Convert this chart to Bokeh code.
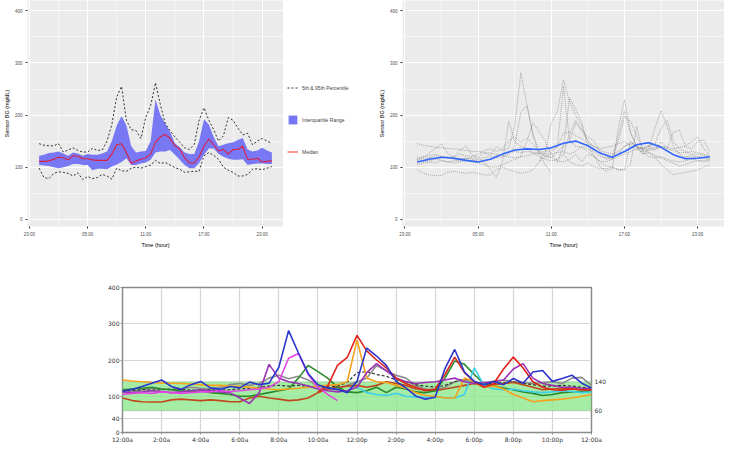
import math
from bokeh.plotting import figure
from bokeh.models import (FixedTicker, Legend, LegendItem, LinearAxis, BoxAnnotation,
                          Range1d, Spacer)
from bokeh.layouts import column, row
from bokeh.embed import file_html
from bokeh.resources import INLINE

nan = float("nan")

# ---------------- data ----------------
half_hours = [0, 0.5, 1, 1.5, 2, 2.5, 3, 3.5, 4, 4.5, 5, 5.5, 6, 6.5, 7, 7.5, 8, 8.5, 9, 9.5,
              10, 10.5, 11, 11.5, 12, 12.5, 13, 13.5, 14, 14.5, 15, 15.5, 16, 16.5, 17, 17.5,
              18, 18.5, 19, 19.5, 20, 20.5, 21, 21.5, 22, 22.5, 23, 23.5, 24]

# percentile summary (top-left panel)
median = [111, 111, 112, 115, 119, 118, 114, 122, 121, 116, 116, 114, 113, 113, 113, 125, 143, 145, 128, 107,
          112, 115, 118, 125, 148, 158, 163, 155, 141, 135, 118, 108, 108, 120, 140, 154, 143, 131, 134, 125,
          134, 134, 140, 115, 115, 117, 110, 111, 112]
q75 = [122, 124, 127, 128, 130, 126, 122, 128, 126, 122, 125, 124, 124, 126, 130, 150, 180, 198, 180, 140,
       128, 130, 131, 150, 230, 200, 184, 168, 146, 138, 128, 125, 125, 150, 192, 182, 158, 140, 143, 146,
       148, 152, 156, 134, 130, 132, 137, 132, 128]
q25 = [104, 103, 102, 100, 98, 100, 102, 106, 106, 104, 104, 94, 97, 97, 96, 101, 105, 110, 117, 104,
       104, 107, 109, 114, 128, 130, 130, 133, 124, 114, 104, 98, 98, 108, 124, 136, 136, 125, 120, 116,
       114, 114, 115, 104, 106, 107, 107, 106, 106]
p95 = [145, 142, 141, 141, 145, 129, 133, 137, 132, 129, 129, 136, 132, 133, 150, 182, 235, 255, 190, 172,
       170, 155, 196, 218, 262, 220, 184, 170, 158, 148, 137, 134, 144, 190, 214, 190, 172, 150, 160, 195,
       190, 175, 162, 165, 143, 150, 155, 150, 146]
p5 = [98, 80, 78, 88, 91, 90, 88, 83, 89, 76, 82, 78, 80, 86, 83, 77, 98, 93, 92, 98,
      100, 98, 101, 104, 113, 107, 109, 104, 99, 96, 90, 91, 92, 92, 122, 128, 123, 115, 100, 94,
      90, 83, 83, 86, 96, 97, 95, 98, 101]

# smoothed trend (top-right panel)
smooth_hours = [0, 1, 2, 3, 4, 5, 6, 7, 8, 9, 10, 11, 12, 13, 14, 15, 16, 17, 18, 19, 20, 21, 22, 23, 24]
smooth = [110, 115, 119, 117, 113, 110, 115, 125, 133, 135, 134, 137, 146, 150, 141, 127, 119, 130, 143, 147,
          138, 124, 116, 117, 120]

# daily traces (bottom panel; grey in top-right panel)
blue = [114, 119, 127, 136, 145, 127, 119, 132, 141, 123, 119, 127, 123, 139, 132, 136, 180, 281, 220, 163,
        132, 123, 119, 110, 141, 233, 211, 185, 141, 123, 101, 92, 97, 176, 229, 167, 141, 132, 141, 132,
        149, 136, 167, 171, 141, 149, 158, 136, 123]
red = [nan] * 20 + [112, 128, 185, 207, 268, 225, 200, 178, 150, 135, 125, 115, 120, 160, 208, 165, 140, 125,
                    135, 175, 208, 178, 140, 125, 118, 117, 120, 118, 118]
orange = [145, 142, 140, 138, 137, 136, 135, 134, 132, 130, 130, 128, 127, 125, 122, 120, 118, 120, 122, 125,
          128, 130, 132, 140, 255, 150, 140, 138, 130, 122, 110, 102, 100, 95, 95, 150, 140, 125, 128, 120,
          105, 95, 85, 88, 90, 92, 95, 100, 105]
magenta = [105, 108, 110, 108, 112, 110, 108, 110, 112, 112, 115, 113, 115, 118, 120, 125, 140, 205, 218, 160,
           125, 105, 88] + [nan] * 26
purple = [112, 110, 112, 115, 113, 110, 112, 115, 118, 115, 112, 110, 95, 80, 110, 188, 150, 140, 135, 128,
          120, 115, 112, 115, 125, 165, 190, 170, 150, 140, 135, 138, 140, 145, 150, 140, 135, 138, 140, 145,
          175, 190, 150, 135, 130, 125, 125, 122, 120]
green = [118, 120, 122, 125, 120, 118, 115, 112, 115, 110, 108, 105, 100, 100, 105, 110, 115, 120, 150, 185,
         168, 150, 125, 112, 110, 115, 125, 110, 125, 120, 112, 110, 115, 150, 197, 188, 160, 135, 128, 123,
         118, 112, 108, 102, 105, 110, 112, 113, 114]
grey = [110, 112, 118, 122, 120, 118, 120, 125, 122, 120, 125, 132, 135, 130, 135, 150, 158, 148, 155, 145,
        128, 120, 118, 130, 140, 150, 185, 170, 158, 150, 130, 120, 118, 125, 140, 145, 138, 135, 142, 145,
        140, 138, 135, 138, 140, 135, 150, 152, 130]
cyan = [nan] * 24 + [125, 110, 105, 102, 108, 100, 98, 97, 100, 95, 95, 105, 178, 130, 120, 118, 120, 115,
                     112, 110, 112, 115, 113, 110, 112]
brown = [95, 88, 85, 84, 84, 90, 92, 90, 88, 90, 88, 85, 85, 95, 100, 95, 92, 88, 90, 95,
         110, 120, 125, 128, 130, 125, 130, 140, 135, 130, 120, 118, 115, 120, 125, 130, 135, 130, 132, 135,
         138, 132, 125, 118, 120, 122, 120, 118, 115]
black = [115, 116, 118, 117, 118, 120, 118, 117, 116, 118, 117, 118, 120, 122, 125, 128, 130, 128, 130, 128,
         126, 125, 128, 138, 165, 168, 160, 155, 145, 140, 132, 128, 125, 130, 140, 148, 140, 135, 135, 138,
         140, 135, 132, 128, 128, 130, 128, 125, 122]

target_low, target_high = 60, 140

gg_tick_hours = [-1, 5, 11, 17, 23]
gg_tick_labels = ["23:00", "05:00", "11:00", "17:00", "23:00"]
gg_minor_hours = [2, 8, 14, 20]
gg_y_ticks = [0, 100, 200, 300, 400]
gg_y_minor = [50, 150, 250, 350]

bottom_tick_hours = [0, 2, 4, 6, 8, 10, 12, 14, 16, 18, 20, 22, 24]
bottom_tick_labels = ["12:00a", "2:00a", "4:00a", "6:00a", "8:00a", "10:00a", "12:00p",
                      "2:00p", "4:00p", "6:00p", "8:00p", "10:00p", "12:00a"]
bottom_y_ticks = [0, 40, 100, 200, 300, 400]

traces = [("grey", grey, "#8c8c8c", None), ("black", black, "#333333", "3 2"),
          ("brown", brown, "#c0481c", None), ("green", green, "#2a8a2a", None),
          ("cyan", cyan, "#3ccfea", None), ("orange", orange, "#f7a21d", None),
          ("purple", purple, "#9b32b8", None), ("magenta", magenta, "#e445e6", None),
          ("red", red, "#e0231c", None), ("blue", blue, "#2b35c9", None)]

legend_labels = ["5th & 95th Percentile", "Interquartile Range", "Median"]

GG_FONT = "Liberation Sans"
IQR_COLOR = "#7878f5"
TOP_H = 250


def gg_style(p):
    p.background_fill_color = "#EBEBEB"
    p.border_fill_color = "white"
    p.outline_line_color = None
    p.grid.grid_line_color = "white"
    p.grid.grid_line_width = 1
    p.grid.minor_grid_line_color = "white"
    p.grid.minor_grid_line_width = 0.5
    p.xaxis.ticker = FixedTicker(ticks=gg_tick_hours, minor_ticks=gg_minor_hours)
    p.xaxis.major_label_overrides = dict(zip(gg_tick_hours, gg_tick_labels))
    p.yaxis.ticker = FixedTicker(ticks=gg_y_ticks, minor_ticks=gg_y_minor)
    p.xaxis.axis_label = "Time (hour)"
    p.yaxis.axis_label = "Sensor BG (mg/dL)"
    for ax in p.axis:
        ax.axis_line_color = None
        ax.major_tick_line_color = "#333333"
        ax.major_tick_out = 2
        ax.major_tick_in = 0
        ax.minor_tick_line_color = None
        ax.major_label_text_font = GG_FONT
        ax.major_label_text_font_size = "4.5px"
        ax.major_label_text_color = "#4d4d4d"
        ax.axis_label_text_font = GG_FONT
        ax.axis_label_text_font_size = "5.5px"
        ax.axis_label_text_font_style = "normal"
        ax.axis_label_text_color = "black"
        ax.axis_label_standoff = 2
        ax.major_label_standoff = 1


# ---------------- top-left: percentiles ----------------
p1 = figure(width=283, height=TOP_H, x_range=Range1d(-1.2, 25.2), y_range=Range1d(-14, 420),
            output_backend="svg", toolbar_location=None,
            min_border_left=0, min_border_right=0, min_border_top=0, min_border_bottom=0)
gg_style(p1)
p1.varea(x=half_hours, y1=q25, y2=q75, fill_color=IQR_COLOR, fill_alpha=1)
p1.line(half_hours, p95, line_color="black", line_width=0.8, line_dash="2 2")
p1.line(half_hours, p5, line_color="black", line_width=0.8, line_dash="2 2")
p1.line(half_hours, median, line_color="red", line_alpha=0.75, line_width=1.1)

# ---------------- legend panel (ggplot-style guide on the right) ----------------
pl = figure(width=92, height=TOP_H, x_range=Range1d(0, 1), y_range=Range1d(0, 1),
            output_backend="svg", toolbar_location=None,
            min_border_left=0, min_border_right=0, min_border_top=0, min_border_bottom=0)
pl.axis.visible = False
pl.grid.visible = False
pl.outline_line_color = None
lk1 = pl.line(x=[nan, nan], y=[nan, nan], line_color="black", line_width=0.8, line_dash="2 2")
lk2 = pl.varea(x=[nan, nan], y1=[nan, nan], y2=[nan, nan], fill_color=IQR_COLOR, fill_alpha=1)
lk3 = pl.line(x=[nan, nan], y=[nan, nan], line_color="red", line_alpha=0.75, line_width=1.1)
legend = Legend(items=[LegendItem(label=legend_labels[0], renderers=[lk1]),
                       LegendItem(label=legend_labels[1], renderers=[lk2]),
                       LegendItem(label=legend_labels[2], renderers=[lk3])],
                location=(4, 69))
legend.label_text_font = GG_FONT
legend.label_text_font_size = "5px"
legend.glyph_width = 11
legend.glyph_height = 11
legend.label_height = 11
legend.spacing = 21
legend.padding = 0
legend.margin = 0
legend.label_standoff = 4
legend.border_line_color = None
legend.background_fill_alpha = 0
pl.add_layout(legend)

# ---------------- top-right: daily traces + smooth ----------------
p2 = figure(width=349, height=TOP_H, x_range=Range1d(-1.2, 25.2), y_range=Range1d(-14, 420),
            output_backend="svg", toolbar_location=None,
            min_border_left=0, min_border_right=0, min_border_top=0, min_border_bottom=0)
gg_style(p2)
for name, vals, col, dash in traces:
    p2.line(half_hours, vals, line_color="#3a3a3a", line_alpha=0.55, line_width=0.7, line_dash="1 1")
p2.line(smooth_hours, smooth, line_color="#3366ff", line_width=1.6)

# ---------------- bottom: coloured daily traces ----------------
pb = figure(width=510, height=195, x_range=Range1d(0, 24), y_range=Range1d(0, 400),
            output_backend="svg", toolbar_location=None,
            min_border_left=18, min_border_right=23, min_border_top=37, min_border_bottom=8)
pb.background_fill_color = "white"
pb.outline_line_color = "#8a8a8a"
pb.outline_line_width = 1.5
pb.grid.grid_line_color = "#d6d6d6"
pb.grid.grid_line_width = 1.2
pb.xaxis.ticker = FixedTicker(ticks=bottom_tick_hours)
pb.xaxis.major_label_overrides = dict(zip(bottom_tick_hours, bottom_tick_labels))
pb.yaxis.ticker = FixedTicker(ticks=bottom_y_ticks)
band = BoxAnnotation(bottom=target_low, top=target_high, fill_color="#8fe88f", fill_alpha=0.8,
                     line_color="#6d8a6d", line_width=1.2, level="underlay")
pb.add_layout(band)
rax = LinearAxis(ticker=FixedTicker(ticks=[target_low, target_high]))
pb.add_layout(rax, "right")
for ax in pb.axis:
    ax.axis_line_color = None
    ax.major_tick_line_color = "#8a8a8a"
    ax.major_tick_out = 2
    ax.major_tick_in = 0
    ax.minor_tick_line_color = None
    ax.major_label_text_font = "DejaVu Sans"
    ax.major_label_text_font_size = "6px"
    ax.major_label_text_color = "#333333"
    ax.major_label_standoff = 1
rax.major_tick_line_color = None
for name, vals, col, dash in traces:
    if dash:
        pb.line(half_hours, vals, line_color=col, line_width=1.2, line_dash=dash)
    else:
        pb.line(half_hours, vals, line_color=col, line_width=1.6)

layout = column(row(p1, pl, p2), row(Spacer(width=104, height=195), pb))
open("out.html", "w").write(file_html(layout, INLINE))
